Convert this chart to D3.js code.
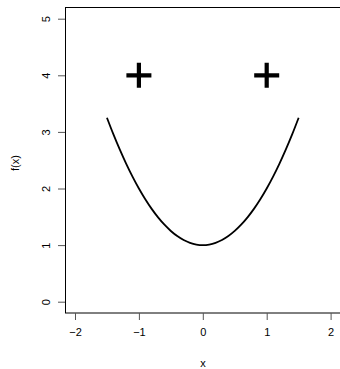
<!DOCTYPE html>
<html>
<head>
<meta charset="utf-8">
<script src="https://cdn.jsdelivr.net/npm/d3@7"></script>
<style>
  body { margin: 0; background: #fff; }
  svg { display: block; }
  text { font-family: "Liberation Sans", Arial, sans-serif; font-size: 11px; fill: #000; }
</style>
</head>
<body>
<script>
// curve values
var curveX = [-1.5, -1.4, -1.3, -1.2, -1.1, -1.0, -0.9, -0.8, -0.7, -0.6, -0.5, -0.4, -0.3, -0.2, -0.1, 0,
              0.1, 0.2, 0.3, 0.4, 0.5, 0.6, 0.7, 0.8, 0.9, 1.0, 1.1, 1.2, 1.3, 1.4, 1.5];
var curveY = [3.25, 2.96, 2.69, 2.44, 2.21, 2.00, 1.81, 1.64, 1.49, 1.36, 1.25, 1.16, 1.09, 1.04, 1.01, 1.00,
              1.01, 1.04, 1.09, 1.16, 1.25, 1.36, 1.49, 1.64, 1.81, 2.00, 2.21, 2.44, 2.69, 2.96, 3.25];
// the two "+" points
var pointX = [-1, 1];
var pointY = [4, 4];
var xTicks = [-2, -1, 0, 1, 2];
var yTicks = [0, 1, 2, 3, 4, 5];

var svg = d3.select("body").append("svg")
    .attr("width", 340)
    .attr("height", 369);

var x = d3.scaleLinear().domain([-2, 2]).range([75, 330.6]),
    y = d3.scaleLinear().domain([0, 5]).range([301.7, 18.7]);

// plot box (right side runs off the page, like the original)
svg.append("rect")
    .attr("x", 65.5)
    .attr("y", 7.5)
    .attr("width", 280)
    .attr("height", 305.5)
    .attr("fill", "none")
    .attr("stroke", "#000")
    .attr("stroke-width", 1);

// x axis
var xAxis = svg.append("g")
    .attr("transform", "translate(0,313)")
    .call(d3.axisBottom(x).tickValues(xTicks).tickSize(7).tickPadding(8)
      .tickFormat(function(d) { return d < 0 ? "\u2212" + Math.abs(d) : d; }));
xAxis.select(".domain").remove();
xAxis.selectAll(".tick line").attr("stroke", "#555");
xAxis.selectAll("text").style("font-size", "11px").attr("fill", "#000");

// y axis, labels turned like R does
var yAxis = svg.append("g")
    .attr("transform", "translate(65,0)")
    .call(d3.axisLeft(y).tickValues(yTicks).tickSize(7).tickFormat(""));
yAxis.select(".domain").remove();
yAxis.selectAll(".tick line").attr("stroke", "#555");
yAxis.selectAll(".tick").append("text")
    .attr("transform", "translate(-19,0) rotate(-90)")
    .attr("text-anchor", "middle")
    .attr("dy", "0.35em")
    .style("font-size", "11px")
    .text(function(d) { return d; });

// axis titles
svg.append("text")
    .attr("x", 203)
    .attr("y", 367)
    .attr("text-anchor", "middle")
    .text("x");
svg.append("text")
    .attr("transform", "translate(15,163) rotate(-90)")
    .attr("text-anchor", "middle")
    .attr("dy", "0.35em")
    .text("f(x)");

// the curve
var pts = curveX.map(function(v, i) { return [v, curveY[i]]; });
var line = d3.line()
    .curve(d3.curveCatmullRom)
    .x(function(d) { return x(d[0]); })
    .y(function(d) { return y(d[1]); });
svg.append("path")
    .attr("d", line(pts))
    .attr("fill", "none")
    .attr("stroke", "#000")
    .attr("stroke-width", 1.8);

// big plus markers
svg.selectAll(".plus")
    .data(pointX.map(function(v, i) { return [v, pointY[i]]; }))
    .enter().append("path")
      .attr("class", "plus")
      .attr("d", "M-12.5,0H12.5M0,-12.5V12.5")
      .attr("transform", function(d) { return "translate(" + x(d[0]) + "," + y(d[1]) + ")"; })
      .attr("stroke", "#000")
      .attr("stroke-width", 4.2)
      .attr("fill", "none");
</script>
</body>
</html>
